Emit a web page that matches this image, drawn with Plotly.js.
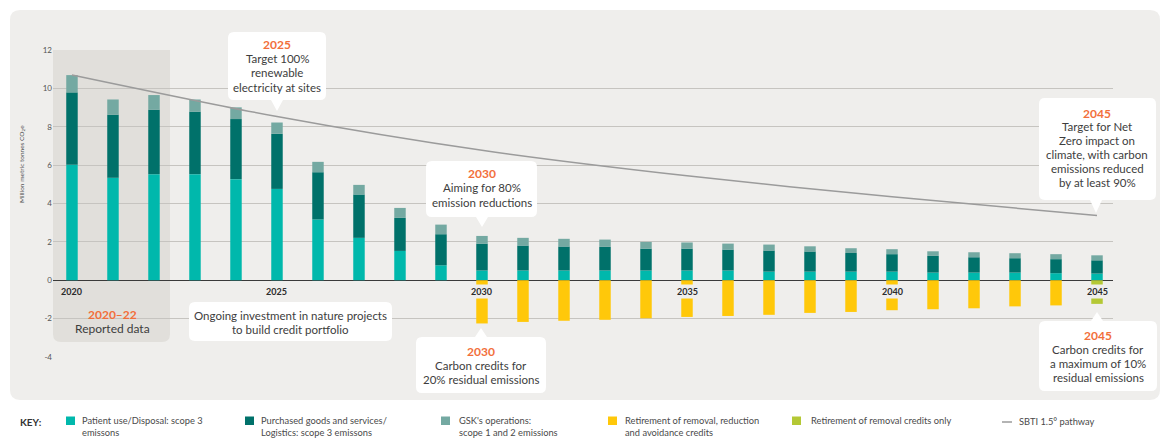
<!DOCTYPE html>
<html>
<head>
<meta charset="utf-8">
<script src="https://cdn.plot.ly/plotly-3.0.1.min.js"></script>
<style>html,body{margin:0;padding:0;background:#fff;}#chart{width:1166px;height:439px;}</style>
</head>
<body>
<div id="chart"></div>
<script>
// ---- data ----
const years = [2020,2021,2022,2023,2024,2025,2026,2027,2028,2029,2030,2031,2032,2033,2034,2035,2036,2037,2038,2039,2040,2041,2042,2043,2044,2045];
const patientUse = [6.02,5.34,5.53,5.53,5.27,4.76,3.17,2.21,1.53,0.78,0.51,0.51,0.51,0.51,0.51,0.51,0.51,0.45,0.45,0.45,0.45,0.40,0.40,0.40,0.37,0.35];
const purchased = [3.77,3.29,3.36,3.26,3.13,2.87,2.46,2.26,1.72,1.62,1.40,1.30,1.25,1.23,1.14,1.14,1.09,1.10,1.05,0.97,0.91,0.87,0.80,0.75,0.73,0.69];
const operations = [0.90,0.79,0.76,0.63,0.61,0.59,0.54,0.50,0.52,0.50,0.40,0.40,0.40,0.38,0.35,0.32,0.31,0.31,0.27,0.25,0.26,0.24,0.26,0.26,0.26,0.26];
const allCredits = [null,null,null,null,null,null,null,null,null,null,-2.25,-2.17,-2.11,-2.06,-1.98,-1.91,-1.86,-1.80,-1.70,-1.65,-1.56,-1.51,-1.46,-1.36,-1.31,null];
const removalCredits = [null,null,null,null,null,null,null,null,null,null,null,null,null,null,null,null,null,null,null,null,null,null,null,null,null,-1.23];
const sbtiYears = [2020,2025,2030,2035,2040,2045];
const sbtiValues = [10.7,8.53,6.77,5.44,4.35,3.37];
const yearLabels = [2020,2025,2030,2035,2040,2045];
const seriesNames = ["Patient use/Disposal: scope 3 emissons","Purchased goods and services/ Logistics: scope 3 emissons","GSK's operations: scope 1 and 2 emissions","Retirement of removal, reduction and avoidance credits","Retirement of removal credits only","SBTI 1.5° pathway"];

// ---- styles ----
const C = {teal:'#00b8ac', dark:'#00716a', light:'#74a9a2', yellow:'#ffc80a', green:'#b4c835', line:'#9b9b9b',
  panel:'#efeeec', shade:'#e1dfdb', grid:'#c6c4c0', orange:'#f26f3b', text:'#3d3d3d'};
const FONT = 'Lato, "Open Sans", sans-serif';

// plot-area geometry (pixels) for placing decorations
const L = 53, T = 49, W = 1060, H = 309;
const px = v => (v - L) / W;
const py = v => (T + H - v) / H;

function pathFromPx(pts) {
  return pts.map(p => p[0] === 'Z' ? 'Z' : p[0] + px(p[1]).toFixed(5) + ',' + py(p[2]).toFixed(5) +
    (p.length > 3 ? ' ' + px(p[3]).toFixed(5) + ',' + py(p[4]).toFixed(5) : '')).join(' ');
}
function roundBox(x0, y0, x1, y1, r, ptr) {
  const P = [];
  P.push(['M', x0 + r, y0]);
  if (ptr && ptr.dir === 'up') { P.push(['L', ptr.x - 6, y0]); P.push(['L', ptr.x, ptr.tip]); P.push(['L', ptr.x + 6, y0]); }
  P.push(['L', x1 - r, y0]); P.push(['Q', x1, y0, x1, y0 + r]);
  P.push(['L', x1, y1 - r]); P.push(['Q', x1, y1, x1 - r, y1]);
  if (ptr && ptr.dir === 'down') { P.push(['L', ptr.x + 6, y1]); P.push(['L', ptr.x, ptr.tip]); P.push(['L', ptr.x - 6, y1]); }
  P.push(['L', x0 + r, y1]); P.push(['Q', x0, y1, x0, y1 - r]);
  P.push(['L', x0, y0 + r]); P.push(['Q', x0, y0, x0 + r, y0]);
  P.push(['Z']);
  return pathFromPx(P);
}
function shapePath(path, fill, layer) {
  return {type:'path', xref:'paper', yref:'paper', path:path, fillcolor:fill, line:{width:0}, layer:layer};
}
function txt(x, y, text, o) {
  o = o || {};
  return {xref:'paper', yref:'paper', x:px(x), y:py(y), text:text, showarrow:false,
    xanchor:o.xa || 'center', yanchor:'middle', textangle:o.angle || 0,
    font:{family:FONT, size:o.size || 11.5, color:o.color || C.text, weight:o.weight || 'normal'}};
}
function callText(cx, yTitle, title, lines, step) {
  const a = [txt(cx, yTitle, '<b>' + title + '</b>', {color:C.orange, size:12})];
  lines.forEach((l, i) => a.push(txt(cx, yTitle + step * (i + 1), l)));
  return a;
}

// ---- traces ----
const barW = 0.28;
const traces = [
  {type:'bar', x:years, y:patientUse, name:seriesNames[0], marker:{color:C.teal}, width:barW},
  {type:'bar', x:years, y:purchased, name:seriesNames[1], marker:{color:C.dark}, width:barW},
  {type:'bar', x:years, y:operations, name:seriesNames[2], marker:{color:C.light}, width:barW},
  {type:'bar', x:years, y:allCredits, name:seriesNames[3], marker:{color:C.yellow}, width:barW},
  {type:'bar', x:years, y:removalCredits, name:seriesNames[4], marker:{color:C.green}, width:barW},
  {type:'scatter', mode:'lines', x:sbtiYears, y:sbtiValues, name:seriesNames[5], line:{color:C.line, width:1.5, shape:'spline', smoothing:0.8}}
];
traces.forEach(t => { t.showlegend = false; t.hoverinfo = 'skip'; });

// ---- shapes ----
const shapes = [];
shapes.push(shapePath(roundBox(10, 10, 1160, 400, 10), C.panel, 'below'));
// reported-data shaded region (flat top, rounded bottom)
shapes.push(shapePath(pathFromPx([['M',53,50],['L',170,50],['L',170,334],['Q',170,342,162,342],['L',61,342],['Q',53,342,53,334],['Z']]), C.shade, 'below'));
// callout boxes
const boxFill = '#ffffff';
shapes.push(shapePath(roundBox(228, 32, 326, 100, 6, {dir:'down', x:277, tip:111}), boxFill, 'above'));
shapes.push(shapePath(roundBox(426, 161, 537, 217, 6, {dir:'down', x:482, tip:227}), boxFill, 'above'));
shapes.push(shapePath(roundBox(1039, 98, 1156, 200, 6, {dir:'down', x:1096, tip:213}), boxFill, 'above'));
shapes.push(shapePath(roundBox(416, 337, 546, 393, 6, {dir:'up', x:481, tip:328}), boxFill, 'above'));
shapes.push(shapePath(roundBox(1039, 321, 1157, 391, 6, {dir:'up', x:1097, tip:312}), boxFill, 'above'));
shapes.push(shapePath(roundBox(189, 302, 392, 341, 6), boxFill, 'above'));

// ---- annotations ----
let ann = [];
ann = ann.concat(callText(277, 45, '2025', ['Target 100%', 'renewable', 'electricity at sites'], 14));
ann = ann.concat(callText(482, 173, '2030', ['Aiming for 80%', 'emission reductions'], 14.5));
ann = ann.concat(callText(1097, 113, '2045', ['Target for Net', 'Zero impact on', 'climate, with carbon', 'emissions reduced', 'by at least 90%'], 13.8));
ann = ann.concat(callText(481, 351, '2030', ['Carbon credits for', '20% residual emissions'], 14));
ann = ann.concat(callText(1098, 335, '2045', ['Carbon credits for', 'a maximum of 10%', 'residual emissions'], 14.3));
ann.push(txt(290, 315, 'Ongoing investment in nature projects'));
ann.push(txt(290, 329, 'to build credit portfolio'));
ann.push(txt(112, 314, '<b>2020–22</b>', {color:C.orange, size:12}));
ann.push(txt(112, 328, 'Reported data', {size:12}));
ann.push(txt(22, 164, 'Million metric tonnes CO<sub>2</sub>e', {angle:-90, size:6.5, color:'#555'}));

// x year labels with background so they sit over the bars
yearLabels.forEach(y => {
  ann.push({xref:'x', yref:'y', x:y, y:-0.6, text:'<b>' + y + '</b>', showarrow:false,
    xanchor:'center', yanchor:'middle', bgcolor: y <= 2025 ? 'rgba(0,0,0,0)' : C.panel, borderpad:1,
    font:{family:FONT, size:9, color:'#2b2b2b'}});
});

// ---- key ----
ann.push(txt(18, 422, '<b>KEY:</b>', {xa:'left', size:10, color:'#333'}));
const keyItems = [
  {sx:66, color:C.teal, tx:80, lines:['Patient use/Disposal: scope 3', 'emissons']},
  {sx:245, color:C.dark, tx:259, lines:['Purchased goods and services/', 'Logistics: scope 3 emissons']},
  {sx:441, color:C.light, tx:457, lines:["GSK's operations:", 'scope 1 and 2 emissions']},
  {sx:608, color:C.yellow, tx:623, lines:['Retirement of removal, reduction', 'and avoidance credits']},
  {sx:792, color:C.green, tx:809, lines:['Retirement of removal credits only']}
];
keyItems.forEach(k => {
  shapes.push({type:'rect', xref:'paper', yref:'paper', x0:px(k.sx), x1:px(k.sx + 9), y0:py(425), y1:py(416.5),
    fillcolor:k.color, line:{width:0}, layer:'above'});
  k.lines.forEach((l, i) => ann.push(txt(k.tx, 420.5 + i * 12.5, l, {xa:'left', size:9.3, color:'#4a4a4a'})));
});
shapes.push({type:'line', xref:'paper', yref:'paper', x0:px(1002), x1:px(1012), y0:py(422), y1:py(422),
  line:{color:C.line, width:1.5}, layer:'above'});
ann.push(txt(1017, 421.5, 'SBTI 1.5° pathway', {xa:'left', size:9.3, color:'#4a4a4a'}));

// ---- layout ----
const layout = {
  width:1166, height:439,
  margin:{l:L, r:1166 - L - W, t:T, b:439 - T - H, pad:0},
  paper_bgcolor:'#ffffff', plot_bgcolor:'rgba(0,0,0,0)',
  barmode:'relative',
  showlegend:false,
  font:{family:FONT, color:C.text},
  xaxis:{range:[2019.537, 2045.39], showgrid:false, zeroline:false, showticklabels:false, showline:false, fixedrange:true},
  yaxis:{range:[-4.05, 12.05], tickvals:[-4,-2,0,2,4,6,8,10,12], ticktext:['-4','-2','0','2','4','6','8','10','12'],
    showgrid:true, gridcolor:C.grid, gridwidth:1.2, zeroline:true, zerolinecolor:'#3a3a3a', zerolinewidth:1.2,
    tickfont:{family:FONT, size:8, color:'#555'}, ticks:'', showline:false, fixedrange:true},
  shapes:shapes,
  annotations:ann
};

Plotly.newPlot('chart', traces, layout, {displayModeBar:false, staticPlot:true});
</script>
</body>
</html>
